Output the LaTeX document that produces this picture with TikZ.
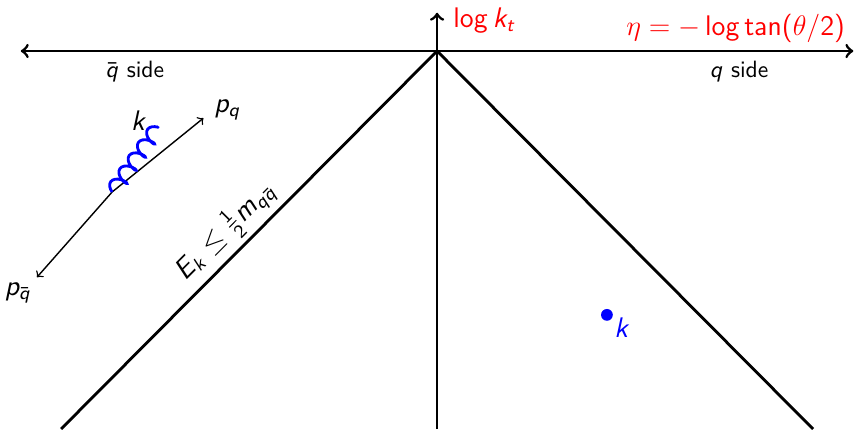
\documentclass[tikz,border=0pt]{standalone}
\usetikzlibrary{decorations.pathmorphing}

% sans serif text and latin letters in math
\renewcommand{\familydefault}{\sfdefault}
\DeclareSymbolFont{sfletters}{OT1}{cmss}{m}{sl}
\SetSymbolFont{operators}{normal}{OT1}{cmss}{m}{n}
\DeclareMathSymbol{E}{\mathalpha}{sfletters}{`E}
\DeclareMathSymbol{k}{\mathalpha}{sfletters}{`k}
\DeclareMathSymbol{m}{\mathalpha}{sfletters}{`m}
\DeclareMathSymbol{p}{\mathalpha}{sfletters}{`p}
\DeclareMathSymbol{q}{\mathalpha}{sfletters}{`q}
\DeclareMathSymbol{t}{\mathalpha}{sfletters}{`t}

\begin{document}
\begin{tikzpicture}[
  axis/.style={very thick},
  momentum/.style={->, semithick},
  gluon/.style={blue, line width=1.2pt, decorate, decoration={coil, amplitude=3pt, segment length=6.8pt}},
  axislabel/.style={red, font=\large},
  biglabel/.style={font=\large}
]
\useasboundingbox (-6.51,-5.63) rectangle (6.21,0.76);

% axes
\coordinate (O) at (0,0);
\coordinate (left) at (-6.2,0);
\coordinate (right) at (6.2,0);
\coordinate (top) at (0,0.57);
\coordinate (bottom) at (0,-5.63);
\draw[axis, <->] (left) -- (right);
\draw[axis, ->] (bottom) -- (top);
\node[axislabel, anchor=west] (kt) at (0.12,0.46) {$\log k_t$};
\node[axislabel, anchor=east] (eta) at (6.2,0.33) {$\eta = -\log\tan(\theta/2)$};
\node (qbarside) at (-4.5,-0.3) {$\bar q$ side};
\node (qside) at (4.5,-0.3) {$q$ side};

% Lund plane edges
\coordinate (ledge) at (-5.6,-5.63);
\coordinate (redge) at (5.6,-5.63);
\draw[axis] (ledge) -- node[biglabel, sloped, above, pos=0.48, inner sep=2pt] (cut) {$E_k \leq \frac{1}{2} m_{q\bar q}$} (O);
\draw[axis] (O) -- (redge);

% emission
\node[circle, fill=blue, inner sep=0pt, minimum size=5pt] (kdot) at (2.53,-3.93) {};
\node[blue, biglabel] (klab) at (2.76,-4.12) {$k$};

% quark pair with gluon
\coordinate (vtx) at (-4.84,-2.10);
\coordinate (pq) at (-3.48,-1.00);
\coordinate (pqbar) at (-5.96,-3.37);
\coordinate (gend) at (-4.15,-1.12);
\draw[momentum] (vtx) -- (pq);
\draw[momentum] (vtx) -- (pqbar);
\draw[gluon] (vtx) -- (gend);
\node[biglabel] (pqlab) at (-3.12,-0.88) {$p_q$};
\node[biglabel] (pqbarlab) at (-6.24,-3.6) {$p_{\bar q}$};
\node[biglabel] (glab) at (-4.44,-1.04) {$k$};
\end{tikzpicture}
\end{document}
